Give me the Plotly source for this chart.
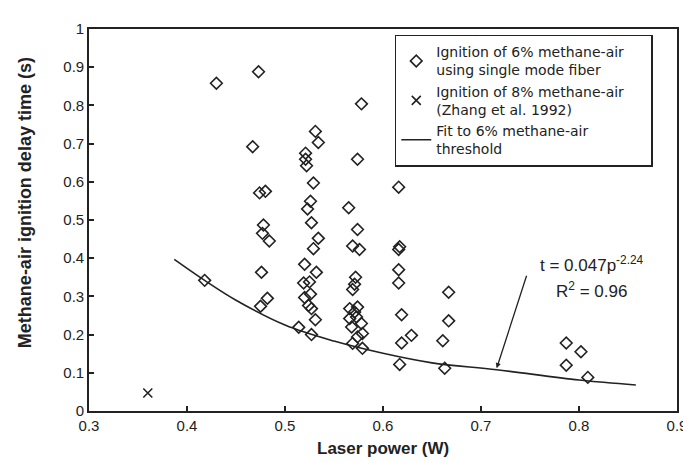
import plotly.graph_objects as go

# 6% methane-air ignition, single mode fiber (laser power W, delay s)
power_6 = [0.430, 0.473, 0.531, 0.534, 0.467, 0.521, 0.521, 0.522, 0.529, 0.474,
           0.480, 0.526, 0.523, 0.565, 0.527, 0.478, 0.477, 0.484, 0.534, 0.529,
           0.520, 0.532, 0.476, 0.519, 0.525, 0.520, 0.526, 0.524, 0.527, 0.531,
           0.482, 0.475, 0.418, 0.514, 0.527, 0.578, 0.574, 0.616, 0.574, 0.569,
           0.576, 0.617, 0.616, 0.616, 0.616, 0.667, 0.572, 0.571, 0.569, 0.566,
           0.574, 0.571, 0.573, 0.566, 0.578, 0.568, 0.579, 0.574, 0.569, 0.579,
           0.619, 0.667, 0.629, 0.619, 0.661, 0.617, 0.663, 0.787, 0.802, 0.787,
           0.809]
delay_6 = [0.858, 0.888, 0.732, 0.703, 0.692, 0.675, 0.659, 0.642, 0.597, 0.571,
           0.575, 0.549, 0.529, 0.532, 0.493, 0.487, 0.465, 0.445, 0.452, 0.425,
           0.384, 0.363, 0.363, 0.335, 0.338, 0.297, 0.306, 0.276, 0.268, 0.239,
           0.295, 0.274, 0.342, 0.219, 0.200, 0.804, 0.659, 0.586, 0.475, 0.432,
           0.423, 0.430, 0.423, 0.370, 0.335, 0.311, 0.350, 0.332, 0.318, 0.268,
           0.272, 0.259, 0.246, 0.242, 0.229, 0.220, 0.203, 0.194, 0.177, 0.164,
           0.252, 0.236, 0.198, 0.178, 0.184, 0.122, 0.112, 0.178, 0.155, 0.120,
           0.088]

# 8% methane-air (Zhang et al. 1992)
power_8 = [0.360]
delay_8 = [0.047]

# Fit to 6% methane-air threshold
fit_power = [0.387, 0.418, 0.450, 0.500, 0.550, 0.600, 0.650, 0.716, 0.800, 0.858]
fit_delay = [0.397, 0.342, 0.290, 0.225, 0.183, 0.151, 0.126, 0.108, 0.081, 0.068]

x_ticks = [0.3, 0.4, 0.5, 0.6, 0.7, 0.8, 0.9]
y_ticks = [0, 0.1, 0.2, 0.3, 0.4, 0.5, 0.6, 0.7, 0.8, 0.9, 1]

INK = "#222222"
FONT = "Liberation Sans, Arial, sans-serif"
LEGEND_FONT = "DejaVu Sans, Liberation Sans, sans-serif"
PAD = "&nbsp;" * 5  # widens the legend box to the reference's width

fig = go.Figure()
fig.add_trace(go.Scatter(
    x=power_6, y=delay_6, mode="markers",
    name="Ignition of 6% methane-air" + PAD + "<br>using single mode fiber",
    marker=dict(symbol="diamond-open", size=9, color=INK, line=dict(width=1.6, color=INK)),
))
fig.add_trace(go.Scatter(
    x=power_8, y=delay_8, mode="markers",
    name="Ignition of 8% methane-air<br>(Zhang et al. 1992)",
    marker=dict(symbol="x-thin-open", size=9, color=INK, line=dict(width=1.6, color=INK)),
))
fig.add_trace(go.Scatter(
    x=fit_power, y=fit_delay, mode="lines",
    name="Fit to 6% methane-air<br>threshold",
    line=dict(color=INK, width=1.6, shape="spline"),
))

fig.add_annotation(x=0.716, y=0.112, ax=0.747, ay=0.358, xref="x", yref="y",
                   axref="x", ayref="y", text="", showarrow=True,
                   arrowhead=2, arrowsize=0.8, arrowwidth=1.3, arrowcolor=INK)
fig.add_annotation(x=0.813, y=0.386, xref="x", yref="y", showarrow=False,
                   xanchor="center", yanchor="middle",
                   text="t = 0.047p<sup>-2.24</sup>",
                   font=dict(family=FONT, size=17, color=INK))
fig.add_annotation(x=0.813, y=0.318, xref="x", yref="y", showarrow=False,
                   xanchor="center", yanchor="middle",
                   text="R<sup>2</sup> = 0.96",
                   font=dict(family=FONT, size=17, color=INK))

fig.add_annotation(x=-0.11, y=0.545, xref="paper", yref="paper", showarrow=False,
                   xanchor="center", yanchor="middle",
                   text="<b>Methane-air ignition delay time (s)</b>", textangle=-90,
                   font=dict(family=FONT, size=18, color=INK))
fig.add_annotation(x=0.5, y=-0.097, xref="paper", yref="paper", showarrow=False,
                   xanchor="center", yanchor="middle",
                   text="<b>Laser power (W)</b>",
                   font=dict(family=FONT, size=17, color=INK))

axis_common = dict(
    showgrid=False, zeroline=False, showline=True, linecolor=INK, linewidth=1.6,
    mirror=True, ticks="inside", ticklen=5, tickwidth=1.5, tickcolor=INK,
    tickfont=dict(family=FONT, size=15, color=INK),
)
fig.update_xaxes(range=[0.3, 0.9], tickvals=x_ticks, **axis_common)
fig.update_yaxes(range=[0, 1], tickvals=y_ticks, **axis_common)

fig.update_layout(
    width=691, height=462,
    margin=dict(l=81, r=14, t=17, b=59),
    paper_bgcolor="white", plot_bgcolor="white",
    font=dict(family=FONT, color=INK),
    showlegend=True,
    legend=dict(
        x=0.52, y=0.985, xanchor="left", yanchor="top",
        bordercolor=INK, borderwidth=1.5, bgcolor="white",
        font=dict(family=LEGEND_FONT, size=14, color=INK),
        tracegroupgap=0, itemwidth=30,
    ),
)

fig.write_html("out.html")
